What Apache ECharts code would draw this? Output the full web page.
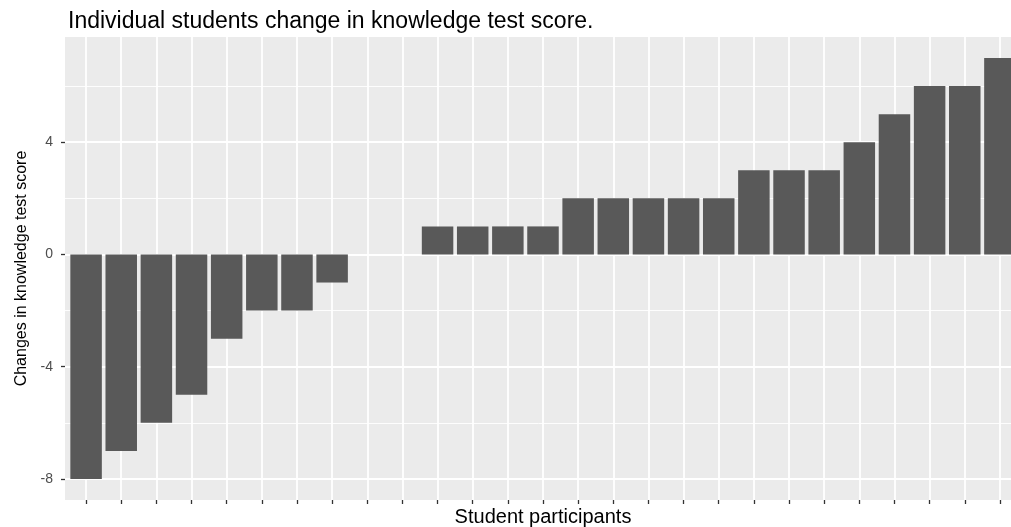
<!DOCTYPE html>
<html>
<head>
<meta charset="utf-8">
<title>Individual students change in knowledge test score</title>
<script src="https://cdn.jsdelivr.net/npm/echarts@6/dist/echarts.min.js"></script>
<style>
  html, body { margin: 0; padding: 0; background: #fff; }
  #chart { width: 1011px; height: 527px; }
</style>
</head>
<body>
<div id="chart"></div>
<script>
// one bar per student, sorted by change
var students = [1, 2, 3, 4, 5, 6, 7, 8, 9, 10, 11, 12, 13, 14, 15, 16, 17, 18, 19, 20, 21, 22, 23, 24, 25, 26, 27];
var scoreChange = [-8, -7, -6, -5, -3, -2, -2, -1, 0, 0, 1, 1, 1, 1, 2, 2, 2, 2, 2, 3, 3, 3, 4, 5, 6, 6, 7];
var yTicks = [-8, -4, 0, 4];
var yMinorTicks = [-6, -2, 2, 6];

var chart = echarts.init(document.getElementById('chart'));

var barData = [];
for (var i = 0; i < students.length; i++) {
  barData.push([students[i], scoreChange[i]]);
}
var minorLines = [];
for (var k = 0; k < yMinorTicks.length; k++) {
  minorLines.push({ yAxis: yMinorTicks[k] });
}

chart.setOption({
  backgroundColor: '#fff',
  animation: false,
  title: {
    text: 'Individual students change in knowledge test score.',
    left: 63,
    top: 5,
    textStyle: {
      color: '#000',
      fontFamily: 'Liberation Sans',
      fontWeight: 'normal',
      fontSize: 23
    }
  },
  grid: {
    left: 65,
    right: -10,
    top: 37,
    bottom: 27,
    outerBoundsMode: 'none',
    show: true,
    backgroundColor: '#ebebeb',
    borderWidth: 0
  },
  xAxis: {
    type: 'value',
    min: 0.4,
    max: 27.6,
    name: 'Student participants',
    nameLocation: 'middle',
    nameGap: 7,
    nameTextStyle: {
      color: '#000',
      fontFamily: 'Liberation Sans',
      fontSize: 20,
      verticalAlign: 'top'
    },
    axisLine: { show: false, onZero: false },
    axisTick: {
      show: true,
      customValues: students,
      length: 4,
      lineStyle: { color: '#333', width: 1.3 }
    },
    axisLabel: { show: false },
    splitLine: {
      show: true,
      lineStyle: { color: '#fff', width: 1.8 }
    }
  },
  yAxis: {
    type: 'value',
    min: -8.75,
    max: 7.75,
    name: 'Changes in knowledge test score',
    nameLocation: 'middle',
    nameRotate: 90,
    nameGap: 35,
    nameTextStyle: {
      color: '#000',
      fontFamily: 'Liberation Sans',
      fontSize: 16
    },
    axisLine: { show: false, onZero: false },
    axisTick: {
      show: true,
      customValues: yTicks,
      length: 4,
      lineStyle: { color: '#333', width: 1.3 }
    },
    axisLabel: {
      customValues: yTicks,
      margin: 12,
      color: '#4d4d4d',
      fontFamily: 'Liberation Sans',
      fontSize: 14
    },
    splitLine: {
      show: true,
      lineStyle: { color: '#fff', width: 1.8 }
    }
  },
  series: [{
    // minor grid lines, kept behind the bars
    type: 'line',
    data: [],
    z: 1,
    silent: true,
    markLine: {
      silent: true,
      z: 1,
      symbol: 'none',
      label: { show: false },
      lineStyle: { color: '#fff', width: 0.9, type: 'solid' },
      data: minorLines
    }
  }, {
    name: 'Change',
    type: 'bar',
    z: 3,
    barWidth: 31.5,
    itemStyle: { color: '#595959' },
    data: barData
  }]
});
</script>
</body>
</html>
